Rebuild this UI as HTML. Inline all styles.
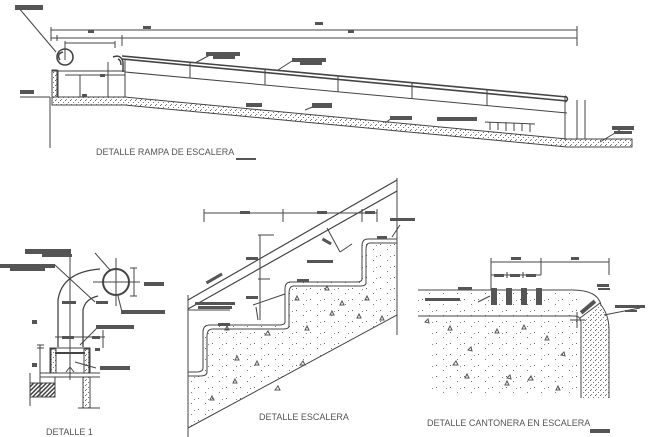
<!DOCTYPE html>
<html><head><meta charset="utf-8"><style>
html,body{margin:0;padding:0;background:#fff;}
svg{display:block;}
text{font-family:"Liberation Sans",sans-serif;fill:#555;}
</style></head><body>
<svg width="652" height="437" viewBox="0 0 652 437" xmlns="http://www.w3.org/2000/svg">
<defs>
<pattern id="dots" width="14" height="11" patternUnits="userSpaceOnUse">
<rect x="2" y="2" width="1" height="1" fill="#666"/><rect x="9" y="7" width="1" height="1" fill="#777"/><rect x="12" y="3" width="1" height="1" fill="#888"/>
</pattern>
<pattern id="dense" width="3" height="3" patternUnits="userSpaceOnUse">
<rect x="0" y="0" width="1" height="1" fill="#555"/><rect x="2" y="1" width="1" height="1" fill="#777"/><rect x="1" y="2" width="1" height="1" fill="#666"/>
</pattern>
<pattern id="med" width="5" height="5" patternUnits="userSpaceOnUse">
<rect x="0" y="0" width="1" height="1" fill="#666"/><rect x="3" y="2" width="1" height="1" fill="#777"/><rect x="1" y="4" width="1" height="1" fill="#888"/>
</pattern>
<pattern id="hatch" width="3" height="3" patternUnits="userSpaceOnUse" patternTransform="rotate(45)">
<rect width="1.5" height="3" fill="#444"/>
</pattern>
</defs>
<g stroke="#444" stroke-width="1" fill="none">
<!-- ===== TOP: RAMPA ===== -->
<line x1="51" y1="30" x2="577" y2="30"/>
<line x1="51" y1="38" x2="577" y2="38"/>
<line x1="51" y1="27" x2="51" y2="41"/><line x1="577" y1="26" x2="577" y2="46"/>
<line x1="57" y1="35" x2="57" y2="41"/><line x1="122" y1="35" x2="122" y2="46"/>
<line x1="65" y1="43" x2="115" y2="43"/><line x1="65" y1="41" x2="65" y2="60"/><line x1="115" y1="41" x2="115" y2="48"/>
<line x1="18" y1="7" x2="56" y2="52"/>
<circle cx="65" cy="57" r="8" stroke-width="1.6"/>
<path d="M60 60 q-4 -6 3 -8" stroke-width="1.5"/>
<path d="M113 57 q8 -3 10 5 v10 M118 59 q3 1 3 6" stroke-width="1.5"/>
<line x1="122" y1="56" x2="567" y2="97" stroke-width="1.6"/>
<line x1="122" y1="59" x2="567" y2="101" stroke-width="1.6"/>
<path d="M565 96 q5 3 0 6" stroke-width="1.5"/>
<line x1="125" y1="72" x2="567" y2="113"/>
<g>
<line x1="190" y1="62" x2="190" y2="78"/><line x1="265" y1="69" x2="265" y2="85"/>
<line x1="338" y1="76" x2="338" y2="92"/><line x1="412" y1="83" x2="412" y2="99"/>
<line x1="487" y1="90" x2="487" y2="106"/><line x1="565" y1="97" x2="565" y2="140"/>
</g>
<line x1="125" y1="60" x2="125" y2="97"/>
<rect x="52" y="70" width="5" height="27" fill="url(#med)"/>
<line x1="58" y1="70" x2="58" y2="97"/>
<line x1="52" y1="71" x2="125" y2="71"/>
<line x1="65" y1="75" x2="125" y2="75"/>
<line x1="80" y1="75" x2="80" y2="97"/><line x1="108" y1="62" x2="108" y2="97"/>
<line x1="50" y1="97" x2="50" y2="148"/>
<line x1="20" y1="97" x2="50" y2="97"/>
<path d="M52 97 L125 97 L567 139 L632 139 L632 147 L567 147 L125 105 L52 105 Z" fill="url(#med)" stroke="#444"/>
<line x1="577" y1="100" x2="577" y2="139"/><line x1="585" y1="100" x2="585" y2="139"/>
<line x1="600" y1="142" x2="620" y2="130"/>
<g>
<line x1="485" y1="122" x2="535" y2="124"/>
<line x1="490" y1="122" x2="490" y2="130"/><line x1="498" y1="122" x2="498" y2="130"/><line x1="506" y1="122" x2="506" y2="131"/>
<line x1="514" y1="123" x2="514" y2="131"/><line x1="522" y1="123" x2="522" y2="131"/><line x1="530" y1="124" x2="530" y2="132"/>
</g>
<line x1="195" y1="63" x2="210" y2="55"/><line x1="278" y1="70" x2="292" y2="61"/>
<line x1="305" y1="110" x2="315" y2="106"/><line x1="385" y1="123" x2="392" y2="118"/>

<!-- ===== DETALLE 1 ===== -->
<circle cx="116" cy="282" r="13" stroke-width="2"/>
<line x1="116" y1="258" x2="116" y2="306"/><line x1="93" y1="282" x2="140" y2="282"/>
<line x1="134" y1="268" x2="134" y2="296"/><line x1="130" y1="268" x2="137" y2="268"/><line x1="130" y1="296" x2="137" y2="296"/>
<path d="M58 347 V300 Q62 272 100 269" stroke-width="1.3"/>
<path d="M83 347 V310 Q85 299 98 296" stroke-width="1.3"/>
<line x1="70" y1="250" x2="70" y2="380"/>
<line x1="40" y1="345" x2="40" y2="396"/><line x1="37" y1="345" x2="44" y2="345"/><line x1="37" y1="348" x2="44" y2="348"/>
<line x1="55" y1="337" x2="105" y2="337"/><line x1="103" y1="330" x2="103" y2="348"/>
<path d="M50 348 H90 V373 H50 Z"/>
<rect x="51" y="349" width="5" height="24" fill="url(#med)"/><rect x="84" y="349" width="5" height="24" fill="url(#med)"/>
<line x1="55" y1="353" x2="85" y2="353" stroke-width="2"/>
<path d="M66 372 l4 -5 l4 5" />
<line x1="40" y1="373" x2="100" y2="373"/><line x1="40" y1="377" x2="100" y2="377"/>
<rect x="30" y="383" width="25" height="14" fill="url(#hatch)"/>
<line x1="30" y1="373" x2="30" y2="406"/><line x1="55" y1="377" x2="55" y2="383"/>
<rect x="83" y="377" width="7" height="31" fill="url(#med)"/>
<line x1="78" y1="408" x2="100" y2="408"/>
<line x1="95" y1="253" x2="110" y2="270"/><line x1="55" y1="265" x2="95" y2="302"/>
<line x1="118" y1="296" x2="122" y2="312"/><line x1="80" y1="345" x2="98" y2="327"/>
<line x1="75" y1="362" x2="96" y2="368"/>

<!-- ===== DETALLE ESCALERA ===== -->
<line x1="188" y1="295" x2="188" y2="437"/>
<line x1="397" y1="178" x2="397" y2="335"/>
<line x1="188" y1="300" x2="397" y2="180" stroke-width="1.2"/>
<line x1="188" y1="309" x2="397" y2="191" stroke-width="1.2"/>
<path d="M188 372 V428 L397 315 V239 H368 Q362 239 362 246 V279 Q362 282 356 282 H291 Q285 282 285 289 V322 Q285 325 279 325 H210 Q203 325 203 332 V368 Q203 372 196 372 Z" fill="url(#dots)"/>
<path d="M397 243 H370 Q366 243 366 250 V283 Q366 286 360 286 H294 Q289 286 289 293 V326 Q289 329 283 329 H213 Q207 329 207 336 V372 Q207 376 200 376 H188" />
<line x1="204" y1="213" x2="377" y2="213"/>
<line x1="204" y1="209" x2="204" y2="222"/><line x1="283" y1="209" x2="283" y2="222"/><line x1="362" y1="209" x2="362" y2="222"/><line x1="377" y1="209" x2="377" y2="222"/>
<line x1="260" y1="235" x2="260" y2="320"/><line x1="258" y1="235" x2="274" y2="235"/><line x1="258" y1="279" x2="270" y2="279"/>
<line x1="327" y1="228" x2="340" y2="252"/><line x1="340" y1="252" x2="352" y2="244"/>
<line x1="253" y1="305" x2="285" y2="294"/><line x1="256" y1="307" x2="258" y2="320"/>
<line x1="188" y1="310" x2="230" y2="310"/>
<line x1="392" y1="237" x2="400" y2="225"/>
<g fill="none" stroke="#555">
<path d="M225 330 l2 -4 l2 4 z"/><path d="M265 335 l3 -4 l2 4z"/><path d="M295 300 l2 -4 l2 4 z"/><path d="M305 330 l2 -4 l2 4z"/>
<path d="M325 290 l2 -4 l2 4z"/><path d="M330 315 l2 -4 l2 4z"/><path d="M340 305 l2 -4 l2 4z"/><path d="M365 300 l2 -4 l2 4z"/>
<path d="M235 360 l2 -4 l2 4z"/><path d="M255 365 l2 -4 l2 4z"/><path d="M275 390 l3 -4 l2 4z"/><path d="M210 400 l2 -4 l2 4z"/>
<path d="M233 383 l2 -4 l2 4z"/><path d="M300 365 l3 -4 l2 4z"/><path d="M380 320 l2 -4 l2 4z"/><path d="M357 318 l2 -4 l2 4z"/>
</g>
<g fill="#555" stroke="none">
<rect x="218" y="323" width="12" height="3"/><rect x="297" y="279" width="12" height="3"/><rect x="377" y="236" width="10" height="3"/>
</g>

<!-- ===== CANTONERA ===== -->
<rect x="418" y="291" width="160" height="25" fill="url(#dots)" stroke="none"/>
<rect x="430" y="317" width="150" height="80" fill="url(#dots)" stroke="none"/>
<path d="M582 322 Q590 312 601 305 Q609 315 609 330 V398 H582 Z" fill="url(#med)" stroke="none"/>
<path d="M418 290 H572 Q598 290 601 305 Q609 315 609 330 V398"/>
<path d="M418 316 H574 Q581 316 581 323 V398"/>
<line x1="577" y1="312" x2="577" y2="328"/><line x1="570" y1="320" x2="585" y2="320"/>
<line x1="491" y1="262" x2="609" y2="262"/><line x1="491" y1="258" x2="491" y2="290"/><line x1="541" y1="258" x2="541" y2="275"/><line x1="609" y1="258" x2="609" y2="275"/>
<line x1="491" y1="275" x2="541" y2="275"/><line x1="507" y1="272" x2="507" y2="278"/><line x1="523" y1="272" x2="523" y2="278"/>
<line x1="475" y1="290" x2="490" y2="290"/><line x1="478" y1="302" x2="490" y2="296"/>
<line x1="580" y1="318" x2="600" y2="303"/><line x1="604" y1="315" x2="640" y2="308"/>
<g fill="none" stroke="#555">
<path d="M425 322 l3 -3 l1 4z"/><path d="M448 330 l2 -4 l2 4z"/><path d="M495 333 l2 -4 l2 4z"/><path d="M522 329 l2 -4 l2 4z"/>
<path d="M545 340 l2 -4 l2 4z"/><path d="M468 350 l3 -3 l1 4z"/><path d="M453 365 l3 -4 l2 4z"/><path d="M465 378 l2 -4 l2 4z"/>
<path d="M507 378 l3 -3 l1 4z"/><path d="M528 380 l3 -4 l2 4z"/><path d="M556 390 l2 -4 l2 4z"/><path d="M505 385 l2 -4 l2 4z"/>
<path d="M561 355 l3 -3 l1 4z"/>
</g>
</g>
<g fill="#555">
<rect x="15" y="5" width="28" height="5"/><rect x="20" y="90" width="14" height="4"/>
<rect x="206" y="52" width="34" height="4"/><rect x="213" y="56" width="22" height="3"/>
<rect x="292" y="58" width="34" height="4"/><rect x="300" y="62" width="22" height="3"/>
<rect x="312" y="103" width="20" height="5"/><rect x="390" y="116" width="22" height="4"/>
<rect x="246" y="103" width="16" height="4"/><rect x="437" y="117" width="40" height="4"/>
<rect x="612" y="126" width="22" height="4"/><rect x="614" y="131" width="18" height="3"/>
<rect x="82" y="94" width="5" height="3"/><rect x="100" y="74" width="5" height="3"/>
<rect x="143" y="26" width="8" height="3"/><rect x="315" y="22" width="8" height="3"/><rect x="88" y="30" width="6" height="3"/><rect x="348" y="30" width="6" height="3"/>
<rect x="236" y="158" width="20" height="2"/>
<rect x="25" y="249" width="46" height="5"/><rect x="42" y="254" width="30" height="3"/>
<rect x="0" y="264" width="55" height="4"/><rect x="10" y="268" width="35" height="3"/>
<rect x="144" y="282" width="20" height="4"/><rect x="121" y="310" width="44" height="4"/>
<rect x="62" y="301" width="14" height="3"/><rect x="96" y="301" width="12" height="3"/>
<rect x="96" y="325" width="38" height="4"/><rect x="100" y="366" width="30" height="4"/>
<rect x="32" y="320" width="5" height="4"/><rect x="32" y="363" width="5" height="4"/>
<rect x="62" y="336" width="12" height="3"/><rect x="92" y="336" width="8" height="3"/><rect x="95" y="348" width="5" height="3"/>
<rect x="240" y="211" width="10" height="3"/><rect x="317" y="211" width="10" height="3"/><rect x="365" y="211" width="10" height="3"/>
<rect x="246" y="257" width="12" height="3"/><rect x="246" y="296" width="12" height="3"/>
<rect x="322" y="240" width="10" height="3" transform="rotate(30 327 241)"/>
<rect x="205" y="277" width="18" height="3" transform="rotate(-30 214 278)"/>
<rect x="195" y="302" width="40" height="3"/><rect x="198" y="306" width="34" height="3"/>
<rect x="307" y="260" width="26" height="3"/><rect x="390" y="218" width="25" height="3"/>
<rect x="491" y="288" width="6" height="17"/><rect x="506" y="288" width="6" height="17"/><rect x="521" y="288" width="6" height="17"/><rect x="536" y="288" width="6" height="17"/>
<rect x="494" y="274" width="10" height="3"/><rect x="510" y="274" width="10" height="3"/><rect x="526" y="274" width="10" height="3"/>
<rect x="511" y="257" width="10" height="3"/><rect x="571" y="257" width="8" height="3"/>
<rect x="458" y="287" width="14" height="3"/><rect x="425" y="298" width="35" height="3"/>
<rect x="597" y="284" width="12" height="3"/><rect x="598" y="288" width="12" height="2"/>
<rect x="615" y="305" width="30" height="3"/><rect x="625" y="310" width="12" height="2"/>
<rect x="579" y="305" width="18" height="4" transform="rotate(-40 588 307)"/>
<rect x="590" y="429" width="20" height="4"/>
</g>
<text x="96" y="155" font-size="9">DETALLE RAMPA DE ESCALERA</text>
<text x="46" y="435" font-size="9">DETALLE 1</text>
<text x="259" y="420" font-size="9">DETALLE ESCALERA</text>
<text x="427" y="426" font-size="9">DETALLE CANTONERA EN ESCALERA</text>
</svg>
</body></html>
